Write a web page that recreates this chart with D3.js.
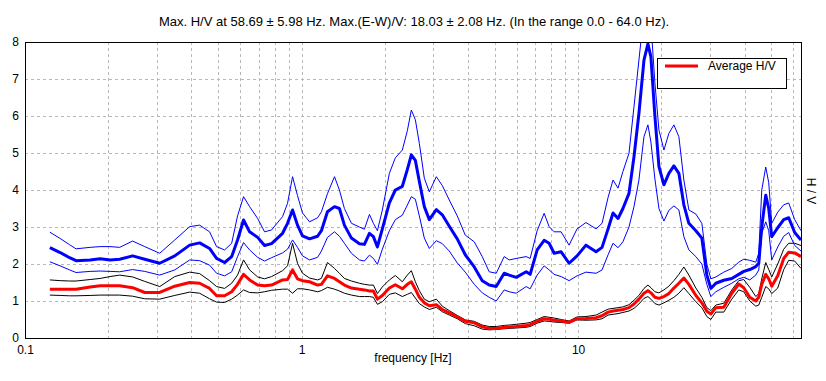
<!DOCTYPE html>
<html><head><meta charset="utf-8">
<script src="https://cdn.jsdelivr.net/npm/d3@7"></script>
<style>html,body{margin:0;padding:0;background:#fff;}svg{display:block;font-family:"Liberation Sans",Arial,sans-serif;}</style>
</head><body><svg id="chart" width="826" height="381"></svg>
<script>
const titleText = "Max. H/V at 58.69 \u00b1 5.98 Hz. Max.(E-W)/V: 18.03 \u00b1 2.08 Hz. (In the range 0.0 - 64.0 Hz).";
const xLabel = "frequency [Hz]";
const yLabel = "H / V";
const legendLabel = "Average H/V";
const xTickLabels = [0.1, 1, 10];
const yTickLabels = [0, 1, 2, 3, 4, 5, 6, 7, 8];

const freqs = [
0.123,0.134,0.145,0.153,0.172,0.187,0.203,0.220,0.245,0.271,
0.307,0.348,0.394,0.428,0.465,0.493,0.527,0.559,0.587,0.617,
0.649,0.694,0.735,0.779,0.854,0.890,0.928,0.967,1.008,1.069,
1.143,1.180,1.241,1.316,1.371,1.429,1.515,1.619,1.688,1.760,
1.819,1.881,1.960,2.078,2.184,2.315,2.413,2.495,2.580,2.667,
2.780,2.898,3.072,3.229,3.422,3.657,3.909,4.213,4.503,4.772,
5.058,5.406,5.636,5.974,6.491,6.711,7.113,7.539,7.859,8.193,
8.683,9.280,9.918,10.68,11.62,12.21,12.84,13.38,13.95,14.53,
15.28,15.93,16.60,17.31,17.89,18.34,18.96,19.61,20.44,21.30,
22.21,23.15,24.13,25.16,26.67,28.03,29.22,30.21,31.49,33.65,
35.97,38.12,39.74,41.78,43.92,45.02,46.16,47.72,48.92,50.16,
52.73,55.42,57.77,60.73,64.0];

const ewMean = [
2.44,2.31,2.17,2.09,2.11,2.14,2.11,2.13,2.22,2.13,
2.02,2.22,2.51,2.57,2.42,2.15,2.04,2.20,2.65,3.19,
2.87,2.72,2.50,2.55,2.83,3.10,3.46,3.05,2.76,2.68,
2.75,2.90,3.41,3.55,3.50,3.05,2.70,2.55,2.53,2.83,
2.74,2.46,2.95,3.65,4.00,4.10,4.55,4.95,4.80,4.23,
3.55,3.20,3.47,3.33,3.02,2.68,2.25,1.92,1.55,1.43,
1.39,1.75,1.70,1.64,1.79,1.72,2.38,2.64,2.56,2.29,
2.33,2.02,2.22,2.51,2.33,2.45,2.95,3.38,3.23,3.50,
3.91,4.90,6.07,7.51,7.95,7.60,6.00,4.63,4.14,4.45,
4.65,4.45,3.60,3.10,2.90,2.70,1.70,1.34,1.48,1.56,
1.61,1.72,1.80,1.85,1.93,2.02,3.00,3.86,3.50,2.74,
2.98,3.20,3.25,2.85,2.65];

const ewUpper = [
2.86,2.69,2.52,2.41,2.45,2.47,2.47,2.45,2.62,2.47,
2.29,2.65,3.01,3.05,2.87,2.47,2.38,2.56,3.30,3.82,
3.55,3.23,2.87,2.92,3.28,3.64,4.36,3.85,3.38,3.14,
3.25,3.41,3.90,4.36,4.00,3.50,3.10,3.00,2.94,3.34,
3.10,2.90,3.46,4.45,4.87,5.08,5.60,6.16,5.90,5.26,
4.32,3.95,4.36,4.12,3.73,3.30,2.78,2.60,2.20,1.79,
1.75,2.20,2.11,2.15,2.20,2.15,2.90,3.37,3.01,2.87,
2.87,2.51,2.95,3.12,2.95,3.10,3.80,4.27,4.05,4.50,
4.99,6.25,7.51,8.80,9.20,8.50,6.90,5.62,5.08,5.53,
5.76,5.44,4.27,3.46,3.35,3.10,2.00,1.60,1.65,1.78,
1.88,2.05,2.13,2.10,2.05,2.29,4.00,4.62,4.20,3.10,
3.40,3.60,3.65,3.20,2.90];

const ewLower = [
2.06,1.95,1.84,1.77,1.80,1.81,1.80,1.79,1.85,1.80,
1.70,1.84,2.11,2.09,1.97,1.75,1.68,1.79,2.20,2.58,
2.38,2.18,2.08,2.17,2.30,2.40,2.65,2.45,2.22,2.11,
2.18,2.35,2.72,2.87,2.75,2.56,2.29,2.11,2.08,2.24,
2.15,1.99,2.40,2.90,3.20,3.32,3.59,3.82,3.75,3.30,
2.70,2.42,2.63,2.55,2.35,2.03,1.78,1.45,1.22,1.10,
1.00,1.30,1.25,1.21,1.39,1.33,1.70,1.95,1.84,1.72,
1.66,1.55,1.68,1.78,1.75,1.84,2.25,2.56,2.44,2.60,
3.00,3.55,4.27,5.44,5.76,5.30,4.30,3.50,3.16,3.45,
3.57,3.46,2.74,2.38,2.20,2.00,1.45,1.12,1.25,1.37,
1.48,1.60,1.64,1.57,1.70,1.84,2.83,3.14,2.90,2.11,
2.46,2.75,2.85,2.50,2.35];

const hvMean = [
1.32,1.32,1.32,1.32,1.38,1.41,1.41,1.41,1.36,1.23,
1.23,1.40,1.50,1.48,1.34,1.14,1.14,1.25,1.45,1.72,
1.57,1.43,1.41,1.43,1.57,1.58,1.84,1.60,1.55,1.52,
1.43,1.45,1.68,1.61,1.52,1.43,1.35,1.32,1.30,1.27,
1.27,1.05,1.15,1.35,1.44,1.33,1.45,1.52,1.32,1.10,
0.95,0.87,0.90,0.77,0.68,0.57,0.45,0.41,0.30,0.26,
0.26,0.29,0.30,0.31,0.34,0.36,0.45,0.52,0.51,0.48,
0.46,0.42,0.52,0.53,0.55,0.60,0.70,0.73,0.75,0.77,
0.82,0.92,1.05,1.21,1.28,1.22,1.10,1.07,1.12,1.20,
1.35,1.48,1.62,1.45,1.15,0.95,0.72,0.65,0.82,0.83,
1.21,1.46,1.36,1.10,1.00,1.10,1.45,1.72,1.60,1.40,
1.68,2.15,2.32,2.30,2.20];

const hvUpper = [
1.57,1.55,1.54,1.54,1.58,1.61,1.66,1.70,1.65,1.53,
1.39,1.66,1.78,1.74,1.55,1.39,1.34,1.48,1.70,2.11,
1.84,1.65,1.60,1.66,1.82,1.95,2.56,2.02,1.75,1.62,
1.57,1.61,2.04,1.88,1.75,1.61,1.54,1.48,1.45,1.43,
1.43,1.20,1.38,1.57,1.69,1.52,1.70,1.82,1.52,1.28,
1.05,0.98,1.05,0.86,0.74,0.61,0.49,0.45,0.35,0.31,
0.31,0.34,0.35,0.37,0.40,0.42,0.50,0.58,0.56,0.54,
0.50,0.46,0.57,0.58,0.62,0.70,0.78,0.80,0.82,0.84,
0.90,1.02,1.15,1.34,1.43,1.36,1.25,1.22,1.30,1.40,
1.55,1.72,1.92,1.70,1.35,1.10,0.82,0.74,0.89,0.94,
1.30,1.55,1.58,1.37,1.12,1.20,1.60,2.04,1.85,1.65,
2.00,2.40,2.56,2.56,2.50];

const hvLower = [
1.16,1.15,1.14,1.14,1.15,1.16,1.16,1.16,1.13,1.06,
1.05,1.15,1.24,1.21,1.06,0.97,0.96,1.05,1.16,1.30,
1.23,1.22,1.25,1.29,1.32,1.32,1.21,1.33,1.33,1.30,
1.25,1.28,1.37,1.32,1.27,1.21,1.16,1.12,1.12,1.12,
1.10,0.91,0.98,1.18,1.22,1.12,1.18,1.23,1.08,0.93,
0.84,0.77,0.83,0.71,0.62,0.52,0.39,0.33,0.24,0.22,
0.23,0.25,0.26,0.27,0.29,0.31,0.40,0.46,0.45,0.43,
0.42,0.40,0.49,0.48,0.49,0.52,0.62,0.64,0.66,0.69,
0.73,0.80,0.92,1.07,1.12,1.05,0.93,0.89,0.95,1.02,
1.10,1.21,1.36,1.20,0.98,0.82,0.58,0.50,0.70,0.70,
1.05,1.30,1.25,1.00,0.86,0.89,1.10,1.39,1.33,1.20,
1.35,1.85,2.10,2.08,1.88];

const svg = d3.select("#chart");
const L = 25, R = 801, T = 42, B = 338;
const x = d3.scaleLog().domain([0.1, 64]).range([L, R]);
const y = d3.scaleLinear().domain([0, 8]).range([B, T]);

svg.append("rect").attr("width", 826).attr("height", 381).attr("fill", "#fff");

// grid
const vGrid = [];
[0.1, 1, 10].forEach(d => { for (let k = 1; k <= 9; k++) { const v = d * k; if (v > 0.1 && v < 64) vGrid.push(v); } });
const grid = svg.append("g").attr("stroke", "#b8b8b8").attr("stroke-width", 1).attr("stroke-dasharray", "3,3");
grid.selectAll("line.v").data(vGrid).join("line")
  .attr("x1", d => Math.round(x(d)) + 0.5).attr("x2", d => Math.round(x(d)) + 0.5)
  .attr("y1", T).attr("y2", B);
grid.selectAll("line.h").data(yTickLabels.filter(d => d > 0 && d < 8)).join("line")
  .attr("x1", L).attr("x2", R)
  .attr("y1", d => Math.round(y(d)) + 0.5).attr("y2", d => Math.round(y(d)) + 0.5);

// clip
svg.append("clipPath").attr("id", "clip").append("rect")
  .attr("x", L).attr("y", T).attr("width", R - L).attr("height", B - T);

const line = (vals) => d3.line().x((d, i) => x(freqs[i])).y(d => y(d))(vals);
const plot = svg.append("g").attr("clip-path", "url(#clip)").attr("fill", "none").attr("stroke-linejoin", "round");
plot.append("path").attr("d", line(hvUpper)).attr("stroke", "#000").attr("stroke-width", 1);
plot.append("path").attr("d", line(hvLower)).attr("stroke", "#000").attr("stroke-width", 1);
plot.append("path").attr("d", line(ewUpper)).attr("stroke", "#0000ff").attr("stroke-width", 1);
plot.append("path").attr("d", line(ewLower)).attr("stroke", "#0000ff").attr("stroke-width", 1);
plot.append("path").attr("d", line(ewMean)).attr("stroke", "#0000ff").attr("stroke-width", 3);
plot.append("path").attr("d", line(hvMean)).attr("stroke", "#ff0000").attr("stroke-width", 3);

// frame
svg.append("rect").attr("x", L + 0.5).attr("y", T + 0.5).attr("width", R - L).attr("height", B - T)
  .attr("fill", "none").attr("stroke", "#000").attr("stroke-width", 1);

// axes labels
const xAxis = d3.axisBottom(x).tickValues(xTickLabels).tickFormat(d => String(d)).tickSize(0).tickPadding(7);
const gx = svg.append("g").attr("transform", `translate(0,${B})`).call(xAxis);
gx.select(".domain").remove();
gx.selectAll("text").attr("font-size", 12).attr("font-family", "Liberation Sans, Arial, sans-serif").attr("fill", "#000");

const yAxis = d3.axisLeft(y).tickValues(yTickLabels).tickFormat(d => String(d)).tickSize(0).tickPadding(6);
const gy = svg.append("g").attr("transform", `translate(${L},0)`).call(yAxis);
gy.select(".domain").remove();
gy.selectAll("text").attr("font-size", 12).attr("font-family", "Liberation Sans, Arial, sans-serif").attr("fill", "#000");

svg.append("text").attr("x", 414).attr("y", 26).attr("text-anchor", "middle")
  .attr("font-size", 13).text(titleText);
svg.append("text").attr("x", 413).attr("y", 362).attr("text-anchor", "middle")
  .attr("font-size", 12).text(xLabel);
svg.append("text").attr("transform", "translate(807,191) rotate(90)").attr("text-anchor", "middle")
  .attr("font-size", 12).text(yLabel);

// legend
const lg = svg.append("g");
lg.append("rect").attr("x", 657.5).attr("y", 58.5).attr("width", 129).attr("height", 30)
  .attr("fill", "#fff").attr("stroke", "#000").attr("stroke-width", 1);
lg.append("line").attr("x1", 665).attr("x2", 698).attr("y1", 66).attr("y2", 66)
  .attr("stroke", "#ff0000").attr("stroke-width", 3);
lg.append("text").attr("x", 708).attr("y", 70).attr("font-size", 12).text(legendLabel);
</script></body></html>
